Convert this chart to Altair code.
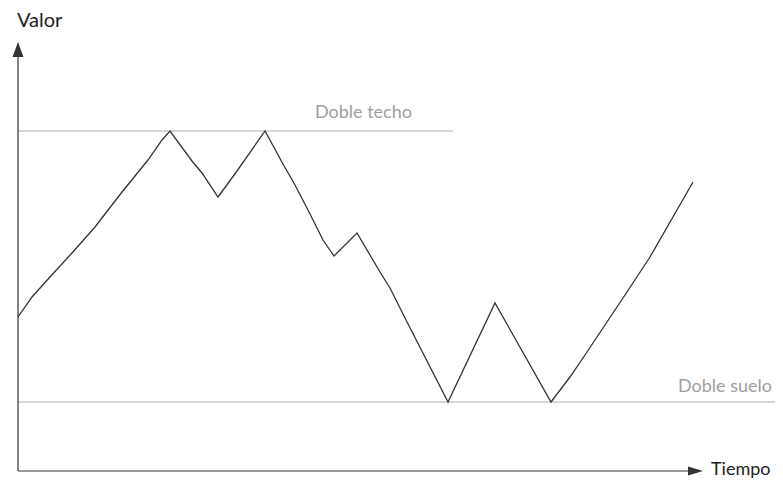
import altair as alt
import pandas as pd

# Price path (time units, value units)
t_vals = [0, 14, 32, 54, 77, 104, 130, 144, 152, 174, 184, 200, 211, 219, 247, 265, 277,
          291, 305, 316, 339, 362, 372, 387, 430, 477, 533, 552, 567, 607, 632, 675]
v_vals = [154, 174, 194, 218, 244, 279, 311, 331, 340, 310, 298, 274, 289, 300, 340, 307, 286,
          259, 231, 215, 238, 199, 183, 153, 69, 168, 69, 94, 116, 176, 214, 289]

# Reference levels
level_names = ["Doble techo", "Doble suelo"]
level_values = [340, 69]
level_ends = [435, 758]
label_t = [297, 754]
label_v = [358, 84]

axis_titles = ["Valor", "Tiempo"]

X_MAX = 685
Y_MAX = 429
FONT = "Lato"

xs = alt.Scale(domain=[0, X_MAX], nice=False, zero=False)
ys = alt.Scale(domain=[0, Y_MAX], nice=False, zero=False)


def X(f):
    return alt.X(f, type="quantitative", scale=xs, axis=None)


def Y(f):
    return alt.Y(f, type="quantitative", scale=ys, axis=None)


price = pd.DataFrame({"t": t_vals, "v": v_vals})
levels = pd.DataFrame({"v": level_values, "t0": [0, 0], "t1": level_ends})

line = alt.Chart(price).mark_line(color="#333333", strokeWidth=1.3).encode(
    x=X("t"), y=Y("v"),
)

ref = alt.Chart(levels).mark_rule(color="#b0b0b0", strokeWidth=1.1).encode(
    x=X("t0"), x2=alt.X2("t1"), y=Y("v"),
)

lab_top = alt.Chart(pd.DataFrame({"t": [label_t[0]], "v": [label_v[0]], "s": [level_names[0]]})).mark_text(
    align="left", baseline="middle", font=FONT, fontSize=18, color="#a0a0a0"
).encode(x=X("t"), y=Y("v"), text=alt.Text("s", type="nominal"))

lab_bot = alt.Chart(pd.DataFrame({"t": [label_t[1]], "v": [label_v[1]], "s": [level_names[1]]})).mark_text(
    align="right", baseline="middle", font=FONT, fontSize=18, color="#a0a0a0"
).encode(x=X("t"), y=Y("v"), text=alt.Text("s", type="nominal"))

# Axes drawn as rules with arrowheads
axes_df = pd.DataFrame({"t0": [0, 0], "t1": [0, 672], "v0": [0, 0], "v1": [416, 0]})
axes = alt.Chart(axes_df).mark_rule(color="#333333", strokeWidth=1.2).encode(
    x=X("t0"), x2=alt.X2("t1"), y=Y("v0"), y2=alt.Y2("v1"),
)

up_arrow = alt.Chart(pd.DataFrame({"t": [0], "v": [421.5]})).mark_point(
    shape="M-0.73,1L0.73,1L0,-1Z", size=225, filled=True, color="#333333", opacity=1
).encode(x=X("t"), y=Y("v"))

right_arrow = alt.Chart(pd.DataFrame({"t": [677.5], "v": [0]})).mark_point(
    shape="M-1,-0.6L1,0L-1,0.6Z", size=225, filled=True, color="#333333", opacity=1
).encode(x=X("t"), y=Y("v"))

titles_df = pd.DataFrame({"t": [-1, 693], "v": [450, 1], "s": axis_titles})
titles_v = alt.Chart(titles_df.iloc[[0]]).mark_text(
    align="left", baseline="middle", font=FONT, fontSize=20, color="#222222"
).encode(x=X("t"), y=Y("v"), text=alt.Text("s", type="nominal"))
titles_t = alt.Chart(titles_df.iloc[[1]]).mark_text(
    align="left", baseline="middle", font=FONT, fontSize=18, color="#222222"
).encode(x=X("t"), y=Y("v"), text=alt.Text("s", type="nominal"))

chart = alt.layer(ref, lab_top, lab_bot, axes, up_arrow, right_arrow, line, titles_v, titles_t).properties(
    width=X_MAX, height=Y_MAX,
    autosize=alt.AutoSizeParams(type="none"),
    padding={"left": 10, "top": 34, "right": 72, "bottom": 9},
    background="white",
).configure_view(stroke=None)

chart.save("out.html", embed_options={"renderer": "svg", "actions": False})
